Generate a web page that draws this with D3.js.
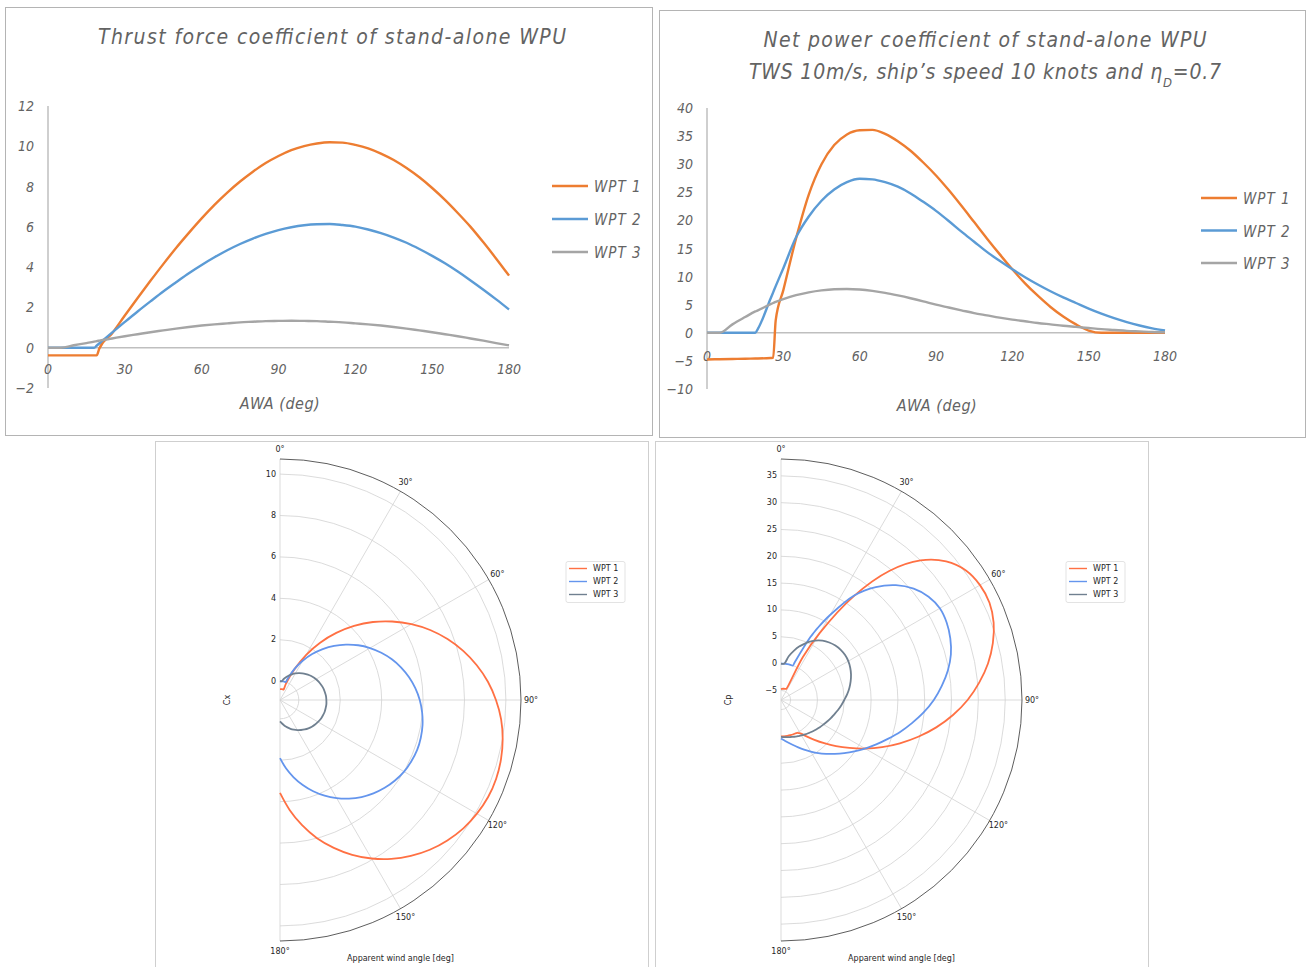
<!DOCTYPE html>
<html>
<head>
<meta charset="utf-8">
<script src="https://cdn.jsdelivr.net/npm/d3@7"></script>
<style>
  body { margin: 0; background: #fff; }
  svg { display: block; }
  .xl text { font-family: "DejaVu Sans Condensed", "Liberation Sans Narrow", sans-serif; font-style: italic; fill: #636363; }
  .mpl text { font-family: "DejaVu Sans", sans-serif; fill: #262626; font-size: 8px; }
</style>
</head>
<body>
<svg id="chart" width="1306" height="967"></svg>
<script>
// ---- data ----
const seriesNames = ["WPT 1", "WPT 2", "WPT 3"];

const awaThrust = [0, 5, 10, 15, 18, 19, 20, 25, 30, 35, 40, 45, 50, 55, 60, 65, 70, 75, 80, 85, 90,
  95, 100, 105, 110, 115, 120, 125, 130, 135, 140, 145, 150, 155, 160, 165, 170, 175, 180];
const thrustWpt1 = [-0.38, -0.38, -0.38, -0.38, -0.38, -0.38, -0.05, 0.71, 1.60, 2.47, 3.32, 4.15, 4.95, 5.70, 6.42, 7.09, 7.70, 8.25, 8.74, 9.17, 9.52,
  9.81, 10.01, 10.14, 10.20, 10.18, 10.07, 9.90, 9.64, 9.32, 8.92, 8.46, 7.93, 7.34, 6.69, 6.00, 5.23, 4.42, 3.58];
const thrustWpt2 = [0, 0, 0, 0, 0, 0.10, 0.21, 0.75, 1.28, 1.80, 2.30, 2.79, 3.25, 3.70, 4.11, 4.49, 4.84, 5.15, 5.42, 5.65, 5.84,
  5.98, 6.08, 6.13, 6.14, 6.09, 6.01, 5.87, 5.69, 5.47, 5.21, 4.90, 4.56, 4.19, 3.78, 3.34, 2.88, 2.40, 1.90];
const thrustWpt3 = [0, 0, 0.12, 0.23, 0.30, 0.33, 0.35, 0.46, 0.57, 0.67, 0.77, 0.86, 0.95, 1.03, 1.10, 1.16, 1.21, 1.26, 1.29, 1.32, 1.33,
  1.34, 1.33, 1.32, 1.29, 1.26, 1.21, 1.16, 1.10, 1.03, 0.95, 0.86, 0.77, 0.67, 0.57, 0.46, 0.35, 0.23, 0.12];

const awaPower = [0, 5, 10, 15, 19, 20, 25, 26, 27, 30, 35, 40, 45, 50, 55, 60, 65, 70, 75, 80, 85, 90,
  95, 100, 105, 110, 115, 120, 125, 130, 135, 140, 145, 150, 155, 160, 165, 170, 175, 180];
const powerWpt1 = [-4.75, -4.70, -4.66, -4.62, -4.58, -4.57, -4.48, -4.45, 2.2, 7.6, 16.8, 24.6, 30.0, 33.4, 35.3, 36.05, 36.1, 35.4, 34.1, 32.4, 30.3, 28.0,
  25.4, 22.6, 19.7, 16.8, 14.0, 11.3, 8.8, 6.6, 4.6, 2.9, 1.5, 0.4, 0, 0, 0, 0, 0, 0];
const powerWpt2 = [0, 0, 0, 0, 0, 0.7, 6.1, 7.2, 8.3, 11.5, 17.0, 20.7, 23.5, 25.5, 26.8, 27.4, 27.3, 26.8, 26.0, 24.8, 23.3, 21.7,
  19.9, 18.0, 16.2, 14.4, 12.8, 11.3, 9.9, 8.6, 7.4, 6.3, 5.3, 4.3, 3.4, 2.6, 1.9, 1.3, 0.8, 0.4];
const powerWpt3 = [0, 0, 1.5, 2.8, 3.8, 4.0, 5.1, 5.3, 5.5, 6.0, 6.7, 7.2, 7.55, 7.75, 7.8, 7.7, 7.45, 7.1, 6.65, 6.15, 5.6, 5.0,
  4.5, 4.0, 3.5, 3.1, 2.7, 2.35, 2.05, 1.75, 1.5, 1.25, 1.05, 0.85, 0.65, 0.5, 0.35, 0.25, 0.15, 0.1];

const awaTicks = [0, 30, 60, 90, 120, 150, 180];
const thrustTicks = [-2, 0, 2, 4, 6, 8, 10, 12];
const powerTicks = [-10, -5, 0, 5, 10, 15, 20, 25, 30, 35, 40];
const polarAngles = [0, 30, 60, 90, 120, 150, 180];

const excelColors = ["#ED7D31", "#5B9BD5", "#A5A5A5"];
const polarColors = ["#ff7043", "#6495ed", "#708090"];

const svg = d3.select("#chart");

function border(x, y, w, h, color) {
  svg.append("rect")
    .attr("x", x).attr("y", y).attr("width", w).attr("height", h)
    .attr("fill", "#fff").attr("stroke", color).attr("stroke-width", 1);
}

// Excel-style line chart
function excelChart(o) {
  const g = svg.append("g").attr("class", "xl");
  const x = d3.scaleLinear().domain([0, 180]).range([o.x0, o.x1]);
  const y = d3.scaleLinear().domain(d3.extent(o.yTicks)).range([o.yBottom, o.yTop]);

  g.append("line")
    .attr("x1", x(0)).attr("x2", x(0))
    .attr("y1", y(o.yTicks[0])).attr("y2", y(o.yTicks[o.yTicks.length - 1]))
    .attr("stroke", "#bfbfbf").attr("stroke-width", 1.5);
  g.append("line")
    .attr("x1", x(0)).attr("x2", x(180))
    .attr("y1", y(0)).attr("y2", y(0))
    .attr("stroke", "#bfbfbf").attr("stroke-width", 1.5);

  g.selectAll(".ytick").data(o.yTicks).enter().append("text")
    .attr("x", x(0) - 14).attr("y", d => y(d) + 5)
    .attr("text-anchor", "end").style("font-size", "14px")
    .text(d => d < 0 ? "\u2212" + Math.abs(d) : d);

  g.selectAll(".xtick").data(awaTicks).enter().append("text")
    .attr("x", d => x(d)).attr("y", y(0) + o.xLabelDy)
    .attr("text-anchor", "middle").style("font-size", "14px")
    .text(d => d);

  const line = d3.line()
    .x((d, i) => x(o.awa[i]))
    .y(d => y(d))
    .curve(d3.curveMonotoneX);

  g.selectAll(".series").data(o.series).enter().append("path")
    .attr("d", line)
    .attr("fill", "none")
    .attr("stroke", (d, i) => excelColors[i])
    .attr("stroke-width", 2.4)
    .attr("stroke-linejoin", "round");

  // legend
  seriesNames.forEach((name, i) => {
    const ly = o.legY + i * o.legStep;
    g.append("line")
      .attr("x1", o.legX).attr("x2", o.legX + 36)
      .attr("y1", ly).attr("y2", ly)
      .attr("stroke", excelColors[i]).attr("stroke-width", 2.4);
    g.append("text")
      .attr("x", o.legX + 42).attr("y", ly + 6)
      .style("font-size", "15px").style("letter-spacing", "1px").attr("fill", "#404040")
      .text(name);
  });

  g.append("text")
    .attr("x", o.axisTitle[0]).attr("y", o.axisTitle[1])
    .attr("text-anchor", "middle").style("font-size", "16px").style("letter-spacing", "0.5px")
    .text("AWA (deg)");

  o.titles.forEach(t => {
    const tt = g.append("text")
      .attr("x", t.x).attr("y", t.y)
      .attr("text-anchor", "middle").style("font-size", "21px");
    t.parts.forEach(p => {
      const s = tt.append("tspan").text(p.text);
      if (p.sub) s.attr("baseline-shift", "sub").style("font-size", "13px");
    });
    if (t.len) tt.attr("textLength", t.len).attr("lengthAdjust", "spacing");
  });
}

// matplotlib-style half polar plot
function polarChart(o) {
  const g = svg.append("g").attr("class", "mpl")
    .attr("transform", `translate(${o.cx},${o.cy})`);
  const [lo, hi] = d3.extent(o.series.flat());
  const pad = (hi - lo) * 0.05;
  const r = d3.scaleLinear().domain([lo - pad, hi + pad]).range([0, o.R]);
  const theta = d3.scaleLinear().domain([0, 180]).range([0, Math.PI]);
  const ticks = r.ticks(o.tickCount).filter(t => t > r.domain()[0] && t < r.domain()[1]);

  ticks.forEach(t => {
    const p = d3.path();
    p.arc(0, 0, r(t), -Math.PI / 2, Math.PI / 2);
    g.append("path").attr("d", p.toString())
      .attr("fill", "none").attr("stroke", "#d2d2d2").attr("stroke-width", 0.8);
  });

  polarAngles.forEach(a => {
    const t = theta(a);
    g.append("line")
      .attr("x1", 0).attr("y1", 0)
      .attr("x2", o.R * Math.sin(t)).attr("y2", -o.R * Math.cos(t))
      .attr("stroke", "#d2d2d2").attr("stroke-width", 0.8);
    g.append("text")
      .attr("x", (o.R + 10) * Math.sin(t)).attr("y", -(o.R + 10) * Math.cos(t))
      .attr("text-anchor", "middle").attr("dominant-baseline", "central")
      .text(a + "\u00b0");
  });

  const outer = d3.path();
  outer.arc(0, 0, o.R, -Math.PI / 2, Math.PI / 2);
  g.append("path").attr("d", outer.toString())
    .attr("fill", "none").attr("stroke", "#333").attr("stroke-width", 0.8);

  ticks.forEach(t => {
    g.append("text")
      .attr("x", -4).attr("y", -r(t))
      .attr("text-anchor", "end").attr("dominant-baseline", "central")
      .text(t < 0 ? "\u2212" + Math.abs(t) : t);
  });

  const line = d3.lineRadial()
    .angle((d, i) => theta(o.awa[i]))
    .radius(d => r(d))
    .curve(d3.curveCatmullRom.alpha(0.5));

  g.selectAll(".series").data(o.series).enter().append("path")
    .attr("d", line)
    .attr("fill", "none")
    .attr("stroke", (d, i) => polarColors[i])
    .attr("stroke-width", 1.8);

  g.append("text")
    .attr("transform", `translate(-53,0) rotate(-90)`)
    .attr("text-anchor", "middle").attr("dominant-baseline", "central")
    .text(o.ylabel);
  g.append("text")
    .attr("x", o.R / 2).attr("y", o.R + 20)
    .attr("text-anchor", "middle")
    .text("Apparent wind angle [deg]");

  // legend
  const lg = g.append("g").attr("transform", `translate(${o.legX},${o.legY})`);
  lg.append("rect")
    .attr("width", 59).attr("height", 41).attr("rx", 2)
    .attr("fill", "#fff").attr("stroke", "#dcdcdc").attr("stroke-width", 0.8);
  seriesNames.forEach((name, i) => {
    const ly = 7 + i * 13;
    lg.append("line")
      .attr("x1", 3).attr("x2", 21).attr("y1", ly).attr("y2", ly)
      .attr("stroke", polarColors[i]).attr("stroke-width", 1.4);
    lg.append("text")
      .attr("x", 27).attr("y", ly).attr("dominant-baseline", "central")
      .text(name);
  });
}

border(5.5, 7.5, 647, 428, "#b4b4b4");
border(659.5, 10.5, 646, 427, "#b4b4b4");
border(155.5, 441.5, 493, 540, "#cfcfcf");
border(655.5, 441.5, 493, 540, "#cfcfcf");

excelChart({
  x0: 48, x1: 509, yBottom: 388, yTop: 106,
  yTicks: thrustTicks, awa: awaThrust,
  series: [thrustWpt1, thrustWpt2, thrustWpt3],
  xLabelDy: 26, legX: 552, legY: 186, legStep: 33,
  axisTitle: [280, 409],
  titles: [{ x: 332, y: 44, len: 468, parts: [{ text: "Thrust force coefficient of stand-alone WPU" }] }]
});

excelChart({
  x0: 707, x1: 1165, yBottom: 389, yTop: 108,
  yTicks: powerTicks, awa: awaPower,
  series: [powerWpt1, powerWpt2, powerWpt3],
  xLabelDy: 28, legX: 1201, legY: 198, legStep: 32.5,
  axisTitle: [937, 411],
  titles: [
    { x: 985, y: 47, len: 443, parts: [{ text: "Net power coefficient of stand-alone WPU" }] },
    { x: 985, y: 79, len: 472, parts: [{ text: "TWS 10m/s, ship\u2019s speed 10 knots and \u03b7" }, { text: "D", sub: true }, { text: "=0.7" }] }
  ]
});

polarChart({
  cx: 280, cy: 700, R: 241, tickCount: 6, ylabel: "Cx",
  awa: awaThrust, series: [thrustWpt1, thrustWpt2, thrustWpt3],
  legX: 286, legY: -138.5
});

polarChart({
  cx: 781, cy: 700, R: 241, tickCount: 9, ylabel: "Cp",
  awa: awaPower, series: [powerWpt1, powerWpt2, powerWpt3],
  legX: 285, legY: -138.5
});
</script>
</body>
</html>
